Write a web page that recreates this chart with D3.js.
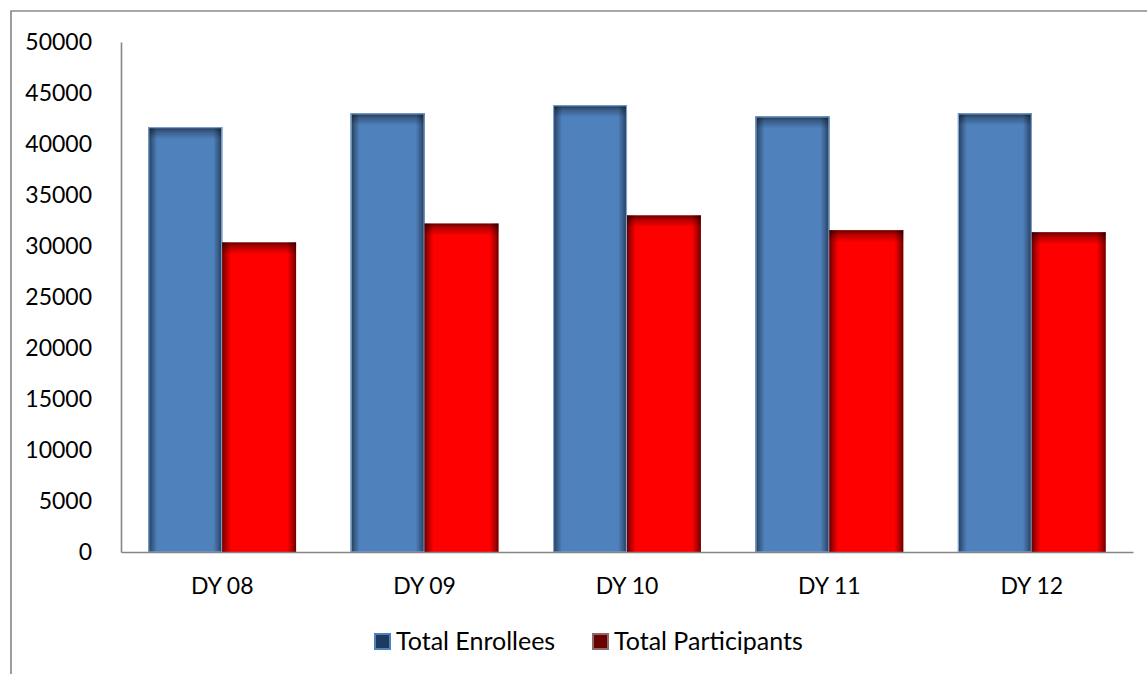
<!DOCTYPE html>
<html>
<head>
<meta charset="utf-8">
<script src="https://cdn.jsdelivr.net/npm/d3@7"></script>
<style>
  body { margin: 0; background: #fff; }
  svg { display: block; }
  text { font-family: Lato, "Open Sans", sans-serif; fill: #000; }
</style>
</head>
<body>
<div id="chart"></div>
<script>
const categories = ["DY 08", "DY 09", "DY 10", "DY 11", "DY 12"];
const enrollees = [41650, 43000, 43800, 42700, 43000];
const participants = [30350, 32200, 33000, 31550, 31350];
const seriesNames = ["Total Enrollees", "Total Participants"];
const yTicks = [0, 5000, 10000, 15000, 20000, 25000, 30000, 35000, 40000, 45000, 50000];

const width = 1147, height = 674;
const margin = {top: 42, right: 14, bottom: 122, left: 121};

const svg = d3.select("#chart")
  .append("svg")
    .attr("width", width)
    .attr("height", height);

// gradients that fake the inner glow on the bars
const defs = svg.append("defs");
const hg = defs.append("linearGradient").attr("id", "edgeH")
    .attr("x1", 0).attr("x2", 1).attr("y1", 0).attr("y2", 0);
[[0, 0.6], [0.04, 0.35], [0.12, 0], [0.88, 0], [0.96, 0.35], [1, 0.6]].forEach(s =>
  hg.append("stop").attr("offset", s[0]).attr("stop-color", "#000").attr("stop-opacity", s[1]));
const vg = defs.append("linearGradient").attr("id", "edgeV")
    .attr("x1", 0).attr("x2", 0).attr("y1", 0).attr("y2", 1);
[[0, 0.6], [0.35, 0.3], [1, 0]].forEach(s =>
  vg.append("stop").attr("offset", s[0]).attr("stop-color", "#000").attr("stop-opacity", s[1]));

// outer frame (left and top edges)
svg.append("path")
    .attr("d", "M11,674V11H1147")
    .attr("fill", "none")
    .attr("stroke", "#8c8c8c")
    .attr("stroke-width", 1.7);

const x = d3.scaleBand()
    .domain(categories)
    .range([margin.left, width - margin.right])
    .paddingInner(0.27)
    .paddingOuter(0.135);

const y = d3.scaleLinear()
    .domain([0, 50000])
    .range([height - margin.bottom, margin.top]);

const table = categories.map((c, i) => ({cat: c, values: [enrollees[i], participants[i]]}));

const sub = d3.scaleBand()
    .domain([0, 1])
    .range([0, x.bandwidth()]);

const fills = ["#4f81bd", "#ff0000"];
const strokes = ["#7aa3d6", "none"];

const bars = svg.append("g")
  .selectAll("g")
  .data(table)
  .join("g")
    .attr("transform", d => `translate(${x(d.cat)},0)`)
  .selectAll("g")
  .data(d => d.values.map((v, k) => ({k: k, v: v})))
  .join("g");

bars.append("rect")
    .attr("x", d => sub(d.k))
    .attr("y", d => y(d.v))
    .attr("width", sub.bandwidth())
    .attr("height", d => y(0) - y(d.v))
    .attr("fill", d => fills[d.k]);

bars.append("rect")
    .attr("x", d => sub(d.k))
    .attr("y", d => y(d.v))
    .attr("width", sub.bandwidth())
    .attr("height", d => y(0) - y(d.v))
    .attr("fill", "url(#edgeH)");

bars.append("rect")
    .attr("x", d => sub(d.k))
    .attr("y", d => y(d.v))
    .attr("width", sub.bandwidth())
    .attr("height", 12)
    .attr("fill", "url(#edgeV)");

bars.filter(d => d.k === 0).append("rect")
    .attr("x", d => sub(d.k) + 0.5)
    .attr("y", d => y(d.v) + 0.5)
    .attr("width", sub.bandwidth() - 1)
    .attr("height", d => y(0) - y(d.v) - 0.5)
    .attr("fill", "none")
    .attr("stroke", d => strokes[d.k])
    .attr("stroke-width", 1.2);

// y axis
const yAxis = svg.append("g")
    .attr("transform", `translate(${margin.left},0)`)
    .call(d3.axisLeft(y).tickValues(yTicks).tickSize(0).tickSizeOuter(0).tickPadding(29).tickFormat(d3.format("d")));
yAxis.select(".domain").attr("stroke", "#868686").attr("stroke-width", 1.6);
yAxis.selectAll("text")
    .attr("dy", 7)
    .style("font-size", "23px")
    .style("font-family", "Lato, sans-serif");

// x axis
const xAxis = svg.append("g")
    .attr("transform", `translate(0,${y(0)})`)
    .call(d3.axisBottom(x).tickSize(0).tickSizeOuter(0));
xAxis.select(".domain").attr("stroke", "#868686").attr("stroke-width", 1.6);
xAxis.selectAll("text")
    .attr("y", 42)
    .attr("dy", 0)
    .style("font-size", "23px")
    .style("font-family", "Lato, sans-serif");

// legend
const legendFill = ["#1f3a5f", "#6b0000"];
const legendStroke = ["#4f81bd", "#8c6a6a"];
const legendX = [375, 593];
const legend = svg.append("g")
  .selectAll("g")
  .data(seriesNames)
  .join("g")
    .attr("transform", (d, i) => `translate(${legendX[i]},634)`);
legend.append("rect")
    .attr("width", 15)
    .attr("height", 15)
    .attr("fill", (d, i) => legendFill[i])
    .attr("stroke", (d, i) => legendStroke[i])
    .attr("stroke-width", 2);
legend.append("text")
    .attr("x", 21)
    .attr("y", 16)
    .style("font-size", "25px")
    .text(d => d);
</script>
</body>
</html>
